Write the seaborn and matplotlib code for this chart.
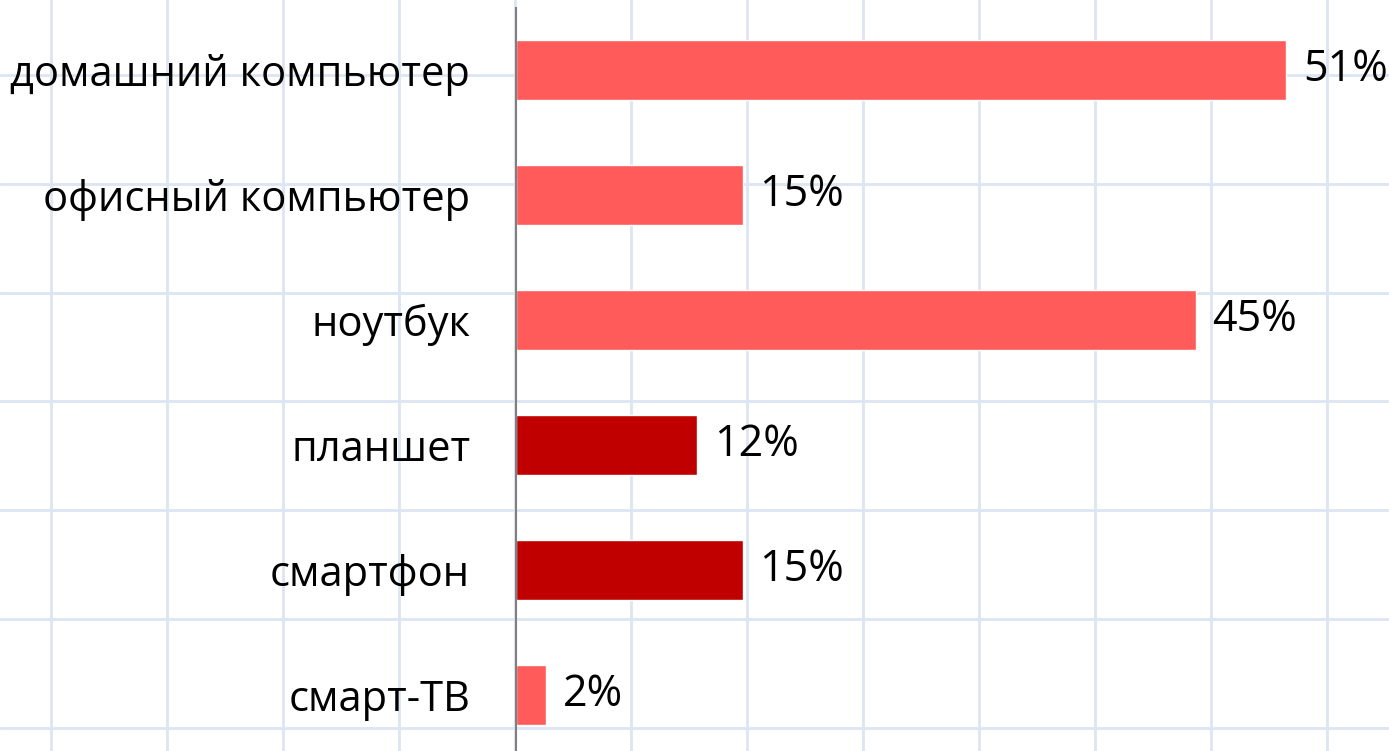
import numpy as np
import pandas as pd
import seaborn as sns
import matplotlib
matplotlib.use("Agg")
import matplotlib.pyplot as plt

# ================================
# Data
# ================================

devices = [
    "домашний компьютер",
    "офисный компьютер",
    "ноутбук",
    "планшет",
    "смартфон",
    "смарт-ТВ",
]
shares = [51, 15, 45, 12, 15, 2]
bar_colors = ["#FF5B5B", "#FF5B5B", "#FF5B5B", "#C00000", "#C00000", "#FF5B5B"]

df = pd.DataFrame({"device": devices, "share": shares})

# ================================
# Figure
# ================================

sns.set_theme(style="white")
plt.rcParams["font.family"] = ["Open Sans", "DejaVu Sans"]

W, H = 1389, 751
fig = plt.figure(figsize=(W / 100, H / 100), dpi=100)

# notebook-paper background grid
bg = fig.add_axes([0, 0, 1, 1], zorder=0)
bg.set_xlim(0, W)
bg.set_ylim(H, 0)
bg.set_xticks(np.arange(51, W, 116))
bg.set_yticks(np.arange(75, H, 108.8))
bg.grid(True, color="#DCE5F2", linewidth=2)
bg.tick_params(left=False, bottom=False, labelleft=False, labelbottom=False)
for s in bg.spines.values():
    s.set_visible(False)

# main chart
ax = fig.add_axes([516 / W, 0, 1 - 516 / W, 1 - 8 / H], zorder=1)
ax.patch.set_alpha(0)

sns.barplot(
    data=df,
    y="device",
    x="share",
    hue="device",
    palette=dict(zip(devices, bar_colors)),
    legend=False,
    width=0.48,
    saturation=1,
    orient="h",
    ax=ax,
)

ax.set_xlim(0, (W - 516) / 15.1)
ax.set_ylim(5.448, -0.496)

for c in ax.containers:
    ax.bar_label(c, labels=[f"{v:.0f}%" for v in c.datavalues],
                 padding=12, fontsize=31, color="black")

ax.set_xlabel("")
ax.set_ylabel("")
ax.set_xticks([])
ax.tick_params(axis="y", length=0, pad=33, labelsize=30, labelcolor="black")

for side in ["top", "right", "bottom"]:
    ax.spines[side].set_visible(False)
ax.spines["left"].set_color("#7F7F7F")
ax.spines["left"].set_linewidth(1.5)

fig.savefig("out.png", dpi=100)
